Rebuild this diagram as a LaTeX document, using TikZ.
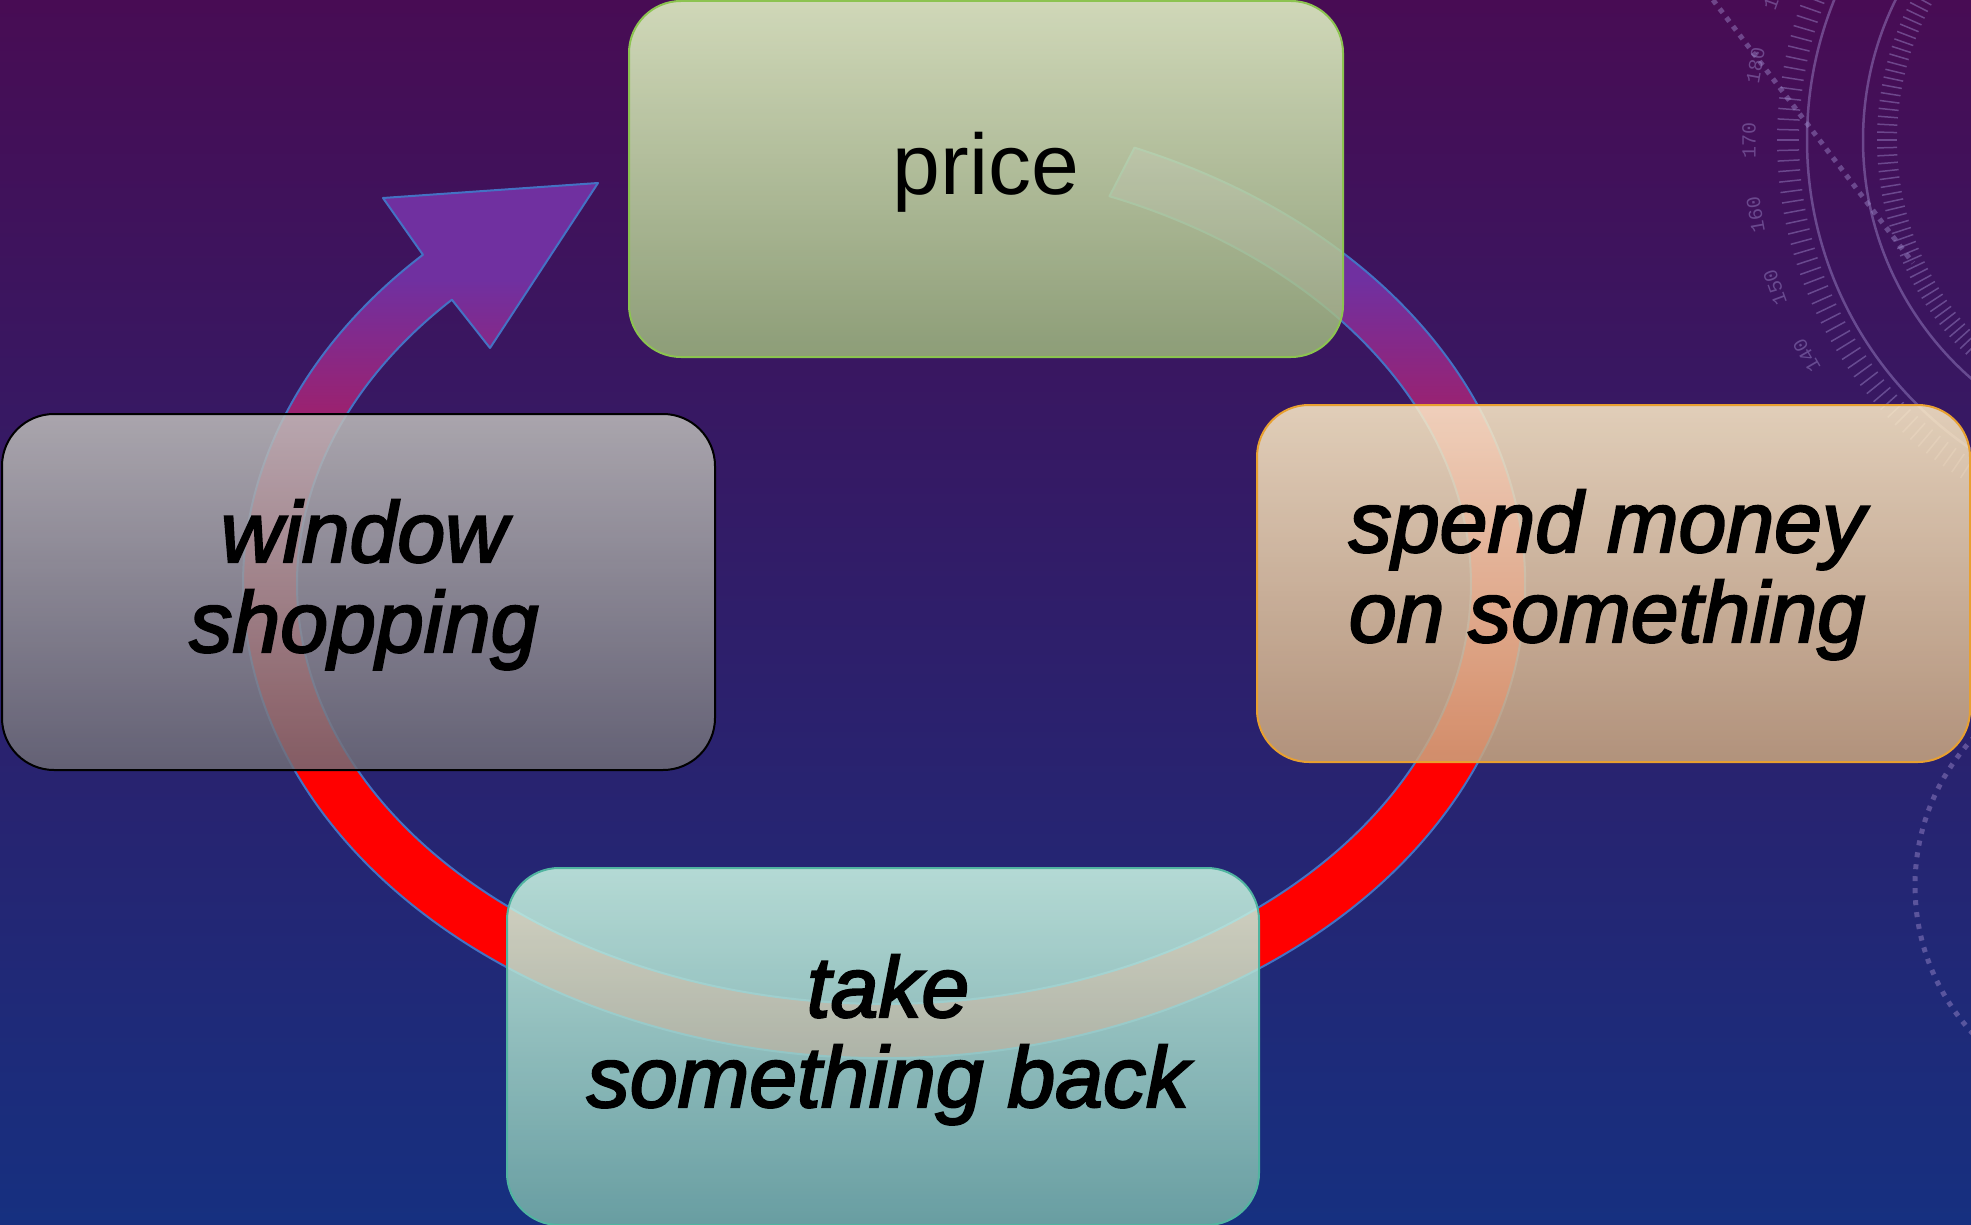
\documentclass[tikz,border=0pt]{standalone}
\usepackage{fontspec}
\setmainfont{Liberation Sans}
\newfontfamily\boxfont{Liberation Sans}[FakeBold=2.5]
\newfontfamily\protofont{Liberation Mono}
\definecolor{bgtop}{RGB}{72,12,84}
\definecolor{bgmid}{RGB}{52,26,108}
\definecolor{bgbot}{RGB}{22,48,128}
\definecolor{ringpurple}{RGB}{112,48,160}
\definecolor{ringred}{RGB}{255,0,0}
\definecolor{ringline}{RGB}{68,114,196}
\definecolor{protoc}{RGB}{160,140,205}
\definecolor{pricetop}{RGB}{232,252,202}
\definecolor{pricebot}{RGB}{156,181,124}
\definecolor{pricebd}{RGB}{140,195,80}
\definecolor{spendtop}{RGB}{255,238,200}
\definecolor{spendbot}{RGB}{202,166,126}
\definecolor{spendbd}{RGB}{232,160,48}
\definecolor{wintop}{RGB}{190,190,186}
\definecolor{winbot}{RGB}{110,108,118}
\definecolor{winbd}{RGB}{0,0,0}
\definecolor{taketop}{RGB}{206,250,230}
\definecolor{takebot}{RGB}{119,177,168}
\definecolor{takebd}{RGB}{80,180,160}
\newcommand\twoline[2]{\vtop{\baselineskip=90pt\lineskiplimit=-300pt\halign{\hfil##\hfil\cr #1\cr #2\cr}}}
\def\cyclepath{(1134.5,-147.7) arc[start angle=67, end angle=-224, x radius=641, y radius=474]
  -- (383,-198) -- (598,-183) -- (490,-348) -- (451.9,-299.7)
  arc[start angle=-222.6, end angle=67.4, x radius=587, y radius=420] -- cycle}
\tikzset{
  cbox/.style={rounded corners=52pt, line width=2pt, fill opacity=0.85, draw opacity=1, text opacity=1, inner sep=0pt},
  itlbl/.style={font={\fontsize{86pt}{90pt}\boxfont\itshape}, text=black, inner sep=0pt, anchor=base},
  uplbl/.style={font={\fontsize{86pt}{90pt}\selectfont}, text=black, inner sep=0pt, anchor=base},
  protoline/.style={draw=protoc, draw opacity=0.45},
  protonum/.style={font={\fontsize{20pt}{22pt}\protofont}, text=protoc, text opacity=0.45, inner sep=0pt}
}
\begin{document}
\begin{tikzpicture}[x=1pt,y=1pt]
\useasboundingbox (0,0) rectangle (1971,-1225);
% background
\shade[top color=bgtop, middle color=bgmid, bottom color=bgbot] (0,0) rectangle (1971,-1225);
% protractor decoration
\begin{scope}
  \clip (0,0) rectangle (1971,-1225);
  \draw[protoline, line width=2.5pt] (2180,-140) circle[radius=373];
  \draw[protoline, line width=2.5pt] (2180,-140) circle[radius=317];
  \foreach \a in {150,151.5,...,258} {
    \draw[protoline, line width=1.5pt, shift={(2180,-140)}] (\a:381) -- (\a:403);
    \draw[protoline, line width=1.5pt, shift={(2180,-140)}] (\a:283) -- (\a:303);
  }
  \foreach \n in {190,180,...,140} {
    \node[protonum, rotate=260-\n] (num\n) at ([shift={(2180,-140)}] {350-\n}:431) {\n};
  }
  \draw[protoline, line width=5pt, dash pattern=on 5pt off 6pt] (1713,0) -- (1913,-263);
  \draw[protoline, line width=5pt, dash pattern=on 5pt off 7pt] (2132,-886) circle[radius=217];
\end{scope}
% cycle arrow
\begin{scope}
  \clip \cyclepath;
  \fill[ringpurple] (0,0) rectangle (1971,-280);
  \shade[top color=ringpurple, bottom color=ringred] (0,-280) rectangle (1971,-720);
  \fill[ringred] (0,-720) rectangle (1971,-1225);
\end{scope}
\draw[draw=ringline, line width=2pt, line join=round] \cyclepath;
% boxes
\node[cbox, draw=pricebd, top color=pricetop, bottom color=pricebot, minimum width=714pt, minimum height=356pt] (price) at (986,-179) {};
\node[cbox, draw=spendbd, top color=spendtop, bottom color=spendbot, minimum width=713pt, minimum height=357pt] (spend) at (1613.5,-583.5) {};
\node[cbox, draw=winbd, top color=wintop, bottom color=winbot, minimum width=713pt, minimum height=356pt] (window) at (358.5,-592) {};
\node[cbox, draw=takebd, top color=taketop, bottom color=takebot, minimum width=752pt, minimum height=357pt] (take) at (883,-1046.5) {};
% labels
\node[uplbl] (pricetxt) at (986,-195) {price};
\node[itlbl] (spendtxt) at (1607,-552) {\twoline{spend money}{on something}};
\node[itlbl] (windowtxt) at (364,-562) {\twoline{window}{shopping}};
\node[itlbl] (taketxt) at (888,-1017) {\twoline{take}{something back}};
\end{tikzpicture}
\end{document}
